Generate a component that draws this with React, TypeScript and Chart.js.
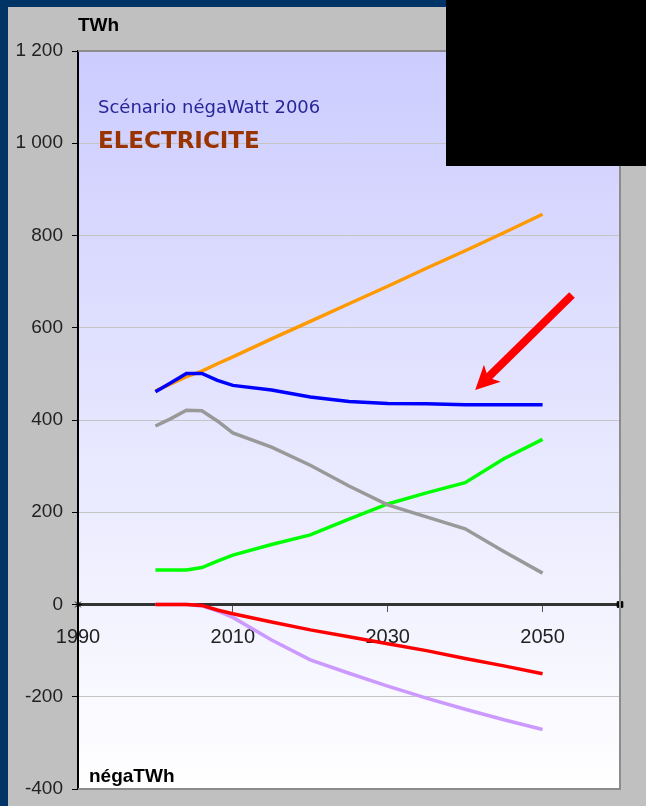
import React, { useEffect, useRef } from 'react';
import { Chart, registerables } from 'chart.js';

Chart.register(...registerables);

// ---- Data (TWh) ----
const years = [2000, 2002, 2004, 2006, 2008, 2010, 2015, 2020, 2025, 2030, 2035, 2040, 2045, 2050];
const tendanciel = [463, 478, 494, 506, 522, 537, 576, 614, 652, 690, 729, 767, 806, 846];
const consommation = [461, 481, 501, 501, 486, 475, 465, 450, 440, 436, 435, 433, 433, 433];
const nucleaire = [387, 403, 421, 420, 398, 372, 341, 302, 257, 216, 190, 164, 115, 68];
const renouvelables = [75, 75, 75, 80, 94, 107, 130, 151, 185, 218, 242, 264, 316, 358];
const efficacite = [0, 0, 0, -2, -12, -20, -38, -55, -70, -85, -100, -117, -133, -150];
const sobriete = [0, 0, 0, -3, -14, -28, -77, -120, -149, -177, -203, -227, -250, -271];

const xTickYears = [1990, 2010, 2030, 2050];
const xMin = 1990;
const xMax = 2060;
const yMin = -400;
const yMax = 1200;
const yStep = 200;

// arrow annotation (data coordinates)
const arrowTail = { x: 2053.8, y: 671 };
const arrowTip = { x: 2041.3, y: 465 };

const titleLine1 = 'Scénario négaWatt 2006';
const titleLine2 = 'ELECTRICITE';
const unitTop = 'TWh';
const unitBottom = 'négaTWh';

const toPts = (arr: number[]) => years.map((x, i) => ({ x, y: arr[i] }));

const fmtY = (v: number) => {
  const s = String(Math.abs(v)).replace(/\B(?=(\d{3})+(?!\d))/g, ' ');
  return (v < 0 ? '-' : '') + s;
};

const decoPlugin = {
  id: 'deco',
  beforeDraw(chart: any) {
    const { ctx, chartArea: a, width, height } = chart;
    ctx.save();
    ctx.fillStyle = '#003366';
    ctx.fillRect(0, 0, width, height);
    ctx.fillStyle = '#c0c0c0';
    ctx.fillRect(8, 7, width - 8, height - 7);
    const g = ctx.createLinearGradient(0, a.top, 0, a.bottom);
    g.addColorStop(0, '#ccccff');
    g.addColorStop(1, '#ffffff');
    ctx.fillStyle = g;
    ctx.fillRect(a.left, a.top, a.right - a.left, a.bottom - a.top);
    ctx.restore();
  },
  afterDraw(chart: any) {
    const { ctx, chartArea: a, scales } = chart;
    ctx.save();
    // plot border (top/right/bottom)
    ctx.strokeStyle = '#8c8c8c';
    ctx.lineWidth = 2;
    ctx.beginPath();
    ctx.moveTo(a.left, a.top);
    ctx.lineTo(a.right, a.top);
    ctx.lineTo(a.right, a.bottom);
    ctx.lineTo(a.left, a.bottom);
    ctx.stroke();

    // texts
    ctx.textBaseline = 'middle';
    ctx.textAlign = 'left';
    ctx.fillStyle = '#000';
    ctx.font = 'bold 19px "Liberation Sans", Arial, sans-serif';
    ctx.fillText(unitTop, a.left, 26);
    ctx.fillText(unitBottom, a.left + 11, a.bottom - 12);

    ctx.fillStyle = '#262699';
    ctx.font = '18px "DejaVu Sans", Verdana, sans-serif';
    ctx.fillText(titleLine1, a.left + 20, 108);
    ctx.fillStyle = '#993300';
    ctx.font = 'bold 23px "DejaVu Sans", Verdana, sans-serif';
    ctx.fillText(titleLine2, a.left + 20, 142);

    // arrow
    const x = scales.x, y = scales.y;
    const tx = x.getPixelForValue(arrowTail.x), ty = y.getPixelForValue(arrowTail.y);
    const hx = x.getPixelForValue(arrowTip.x), hy = y.getPixelForValue(arrowTip.y);
    const len = Math.hypot(hx - tx, hy - ty);
    const dx = (hx - tx) / len, dy = (hy - ty) / len;
    const px = -dy, py = dx;
    ctx.strokeStyle = '#ff0000';
    ctx.fillStyle = '#ff0000';
    ctx.lineWidth = 8;
    ctx.lineCap = 'butt';
    ctx.beginPath();
    ctx.moveTo(tx, ty);
    ctx.lineTo(hx - dx * 18, hy - dy * 18);
    ctx.stroke();
    ctx.beginPath();
    ctx.moveTo(hx, hy);
    ctx.lineTo(hx - dx * 24 + px * 12, hy - dy * 24 + py * 12);
    ctx.lineTo(hx - dx * 18, hy - dy * 18);
    ctx.lineTo(hx - dx * 24 - px * 12, hy - dy * 24 - py * 12);
    ctx.closePath();
    ctx.fill();

    // redaction box
    ctx.fillStyle = '#000';
    ctx.fillRect(446, 0, 200, 166);
    ctx.restore();
  },
};

export default function App() {
  const ref = useRef<HTMLCanvasElement>(null);
  useEffect(() => {
    if (!ref.current) return;
    const line = (data: number[], color: string) => ({
      data: toPts(data),
      borderColor: color,
      backgroundColor: color,
      borderWidth: 3.5,
      pointRadius: 0,
      tension: 0,
      fill: false,
    });
    const chart = new Chart(ref.current, {
      type: 'line',
      data: {
        datasets: [
          {
            data: [{ x: xMin, y: 0 }, { x: xMax, y: 0 }],
            showLine: false,
            pointStyle: ['star', 'rect'],
            pointRadius: 4,
            pointBackgroundColor: '#000',
            pointBorderColor: '#000',
            pointBorderWidth: 1,
            clip: false,
          } as any,
          line(consommation, '#0000ff'),
          line(tendanciel, '#ff9900'),
          line(nucleaire, '#999999'),
          line(renouvelables, '#00ff00'),
          line(efficacite, '#ff0000'),
          line(sobriete, '#cc99ff'),
        ],
      },
      options: {
        responsive: false,
        animation: false,
        layout: { padding: { top: 51, right: 26, bottom: 17, left: 0 } },
        plugins: { legend: { display: false }, tooltip: { enabled: false } },
        scales: {
          x: {
            type: 'linear',
            min: xMin,
            max: xMax,
            position: { y: 0 } as any,
            afterFit: (s: any) => { s.height = 0; s.paddingLeft = 0; s.paddingRight = 0; },
            afterBuildTicks: (s: any) => { s.ticks = xTickYears.map((v) => ({ value: v })); },
            grid: { drawOnChartArea: false, drawTicks: true, tickLength: 6, color: '#555', tickWidth: 1 },
            border: { display: true, color: '#333', width: 3, dash: [1, 1] },
            ticks: {
              callback: (v: any) => String(v),
              font: { family: '"Liberation Sans", Arial, sans-serif', size: 20 },
              color: '#222',
              padding: 15,
              maxRotation: 0,
              autoSkip: false,
            },
          },
          y: {
            type: 'linear',
            min: yMin,
            max: yMax,
            position: 'left',
            afterFit: (s: any) => { s.width = 78; s.paddingTop = 0; s.paddingBottom = 0; },
            ticks: {
              stepSize: yStep,
              callback: (v: any) => fmtY(Number(v)),
              font: { family: '"Liberation Sans", Arial, sans-serif', size: 19 },
              color: '#222',
              padding: 9,
            },
            grid: {
              color: (c: any) => (c.tick && c.tick.value === 0 ? 'rgba(0,0,0,0)' : '#c4c4c4'),
              lineWidth: 1,
              drawTicks: true,
              tickLength: 6,
              tickColor: '#000',
            },
            border: { display: true, color: '#000', width: 2 },
          },
        },
      } as any,
      plugins: [decoPlugin],
    });
    return () => chart.destroy();
  }, []);
  return (
    <div style={{ position: 'absolute', left: 0, top: 0, width: 646, height: 806 }}>
      <canvas ref={ref} width={646} height={806} style={{ display: 'block' }} />
    </div>
  );
}
